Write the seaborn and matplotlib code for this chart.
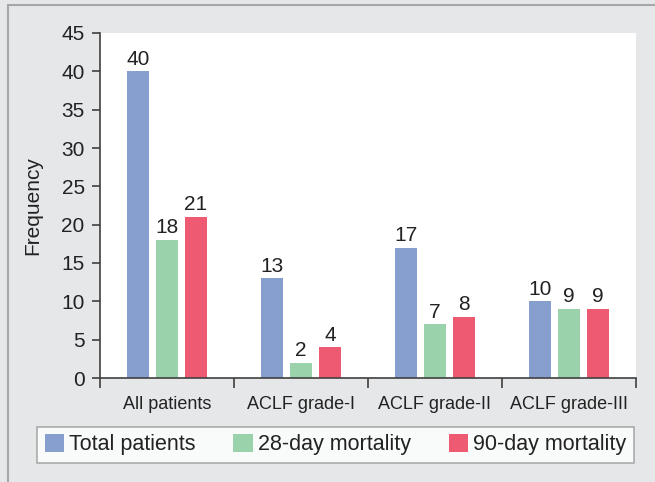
import matplotlib
matplotlib.use("Agg")
import matplotlib.pyplot as plt
import seaborn as sns
import pandas as pd
from matplotlib.patches import Rectangle

categories = ["All patients", "ACLF grade-I", "ACLF grade-II", "ACLF grade-III"]
series_names = ["Total patients", "28-day mortality", "90-day mortality"]
total_patients = [40, 13, 17, 10]
mortality_28 = [18, 2, 7, 9]
mortality_90 = [21, 4, 8, 9]
y_ticks = [0, 5, 10, 15, 20, 25, 30, 35, 40, 45]
colors = ["#879fcf", "#9ad3ab", "#ef5a73"]

rows = []
for name, vals in zip(series_names, [total_patients, mortality_28, mortality_90]):
    for c, v in zip(categories, vals):
        rows.append({"Category": c, "Series": name, "Frequency": v})
df = pd.DataFrame(rows)

sns.set_theme(style="white")
plt.rcParams["font.family"] = ["Liberation Sans", "DejaVu Sans"]

bg = "#e6e7e9"
txt = "#222222"
fig = plt.figure(figsize=(6.55, 4.82), dpi=100, facecolor=bg)
fig.patches.append(Rectangle((8 / 655, -0.1), 1.2, (1 - 5 / 482) + 0.1, transform=fig.transFigure,
                             fill=False, edgecolor="#a6a6a6", linewidth=1.5, zorder=0))

ax = fig.add_axes([100 / 655, 1 - 378 / 482, (636 - 100) / 655, (378 - 33) / 482])
ax.set_facecolor("white")

sns.barplot(data=df, x="Category", y="Frequency", hue="Series", order=categories,
            hue_order=series_names, palette=colors, width=0.65, gap=0.24,
            saturation=1, ax=ax, legend=True, edgecolor="none", linewidth=0)

for cont in ax.containers:
    ax.bar_label(cont, padding=2, fontsize=15, color=txt)

ax.set_ylim(0, 45)
ax.set_xlim(-0.5, 3.5)
ax.set_yticks(y_ticks)
ax.set_xticks(range(len(categories)))
ax.set_xticklabels(categories)
ax.set_xticks([-0.5, 0.5, 1.5, 2.5, 3.5], minor=True)
ax.tick_params(axis="x", which="major", length=0, pad=13, labelsize=13, colors=txt)
ax.tick_params(axis="x", which="minor", length=7, width=1.2, color="#404040", direction="out", bottom=True)
ax.tick_params(axis="y", length=6, width=1.2, color="#404040", direction="out", left=True,
               labelsize=15, labelcolor=txt, pad=5)
ax.set_xlabel("")
ax.set_ylabel("Frequency", fontsize=15, color=txt, labelpad=14)

for s in ["top", "right"]:
    ax.spines[s].set_visible(False)
for s in ["left", "bottom"]:
    ax.spines[s].set_color("#404040")
    ax.spines[s].set_linewidth(1.2)

ax.get_legend().remove()
handles = [Rectangle((0, 0), 1, 1, facecolor=c, edgecolor="none") for c in colors]
leg = fig.legend(handles, series_names, ncol=3, mode="expand",
                 bbox_to_anchor=(37 / 655, 1 - 463 / 482, (634 - 37) / 655, 39 / 482),
                 loc="lower left", frameon=True, fancybox=False, fontsize=15.5,
                 handlelength=0.9, handleheight=0.9, handletextpad=0.25,
                 borderaxespad=0, borderpad=0.35)
leg.get_frame().set_edgecolor("#9a9a9a")
leg.get_frame().set_linewidth(1.2)
leg.get_frame().set_facecolor("white")
for t in leg.get_texts():
    t.set_color(txt)

fig.savefig("out.png", dpi=100, facecolor=bg)
